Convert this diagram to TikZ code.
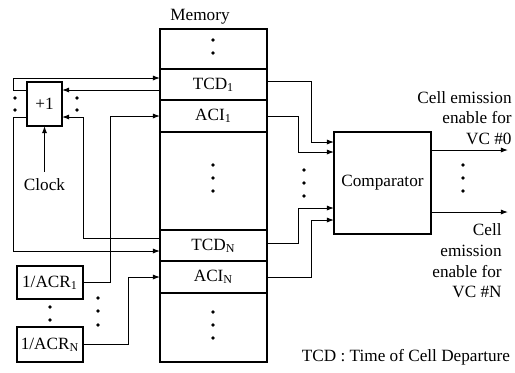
\documentclass[tikz,border=0pt]{standalone}
\usepackage{fontspec}
\setmainfont{Liberation Serif}
\usetikzlibrary{positioning,arrows.meta}

\begin{document}
\begin{tikzpicture}[
    x=0.5pt, y=-0.5pt,
    font=\fontsize{8.6}{10.3}\selectfont,
    cell/.style={rectangle, draw, line width=0.6pt, minimum width=53.5pt,
                 inner sep=0pt, outer sep=0pt},
    box/.style={rectangle, draw, line width=0.6pt, inner sep=0pt, outer sep=0pt},
    txt/.style={inner sep=0pt},
    arrow/.style={-{Latex[length=3.6pt,width=2.6pt]}, line width=0.5pt}
  ]
    \useasboundingbox (0,0) rectangle (515,372);

    % memory column
    \node[cell, minimum height=20pt] (mtop) at (213.5,49) {};
    \node[cell, minimum height=15.5pt, below=0pt of mtop] (tcd1) {TCD\textsubscript{1}};
    \node[cell, minimum height=16pt, below=0pt of tcd1] (aci1) {ACI\textsubscript{1}};
    \node[cell, minimum height=49pt, below=0pt of aci1] (mmid) {};
    \node[cell, minimum height=15.5pt, below=0pt of mmid] (tcdn) {TCD\textsubscript{N}};
    \node[cell, minimum height=16pt, below=0pt of tcdn] (acin) {ACI\textsubscript{N}};
    \node[cell, minimum height=34.5pt, below=0pt of acin] (mbot) {};
    \node[txt] (memlabel) at (200,17) {Memory};

    % counter, clock and rate registers
    \node[box, minimum width=17.5pt, minimum height=22pt] (plus) at (44.5,104) {+1};
    \node (clock) at (44.5,185) {Clock};
    \node[box, minimum width=33pt, minimum height=16.5pt] (acr1) at (50,282.5)
      {1/ACR\textsubscript{1}};
    \node[box, minimum width=33pt, minimum height=17.5pt, below=14pt of acr1] (acrn)
      {1/ACR\textsubscript{N}};

    % comparator and outputs
    \node[box, minimum width=48.5pt, minimum height=51pt] (comp) at (382.5,183) {Comparator};
    \node[txt, align=right, anchor=east] (en0) at (512,118)
      {Cell emission\\enable for\\VC \#0};
    \node[txt, align=right, anchor=east] (enN) at (502,261)
      {Cell\\emission\\enable for\\VC \#N};
    \node[txt] (legend) at (406,357) {TCD : Time of Cell Departure};

    % dots
    \foreach \px/\py in {15/98, 15/110, 77/98, 77/110,
                         213/40, 213/53, 213/165, 213/178, 213/191,
                         213/312, 213/325, 213/338,
                         50/307, 50/320, 98/298, 98/311, 98/325,
                         304/170, 304/183, 304/196, 463/165, 463/178, 463/191}
      \fill (\px,\py) circle (0.9pt);

    % left side connectors
    \draw[arrow] ([yshift=-4pt]plus.north west) -- ++(-7pt,0) |- ([yshift=-4.5pt]tcd1.north west);
    \draw[arrow] ([yshift=-10.5pt]tcd1.north west) -- ([yshift=-4pt]plus.north east);
    \draw[arrow] ([yshift=-4pt]tcdn.north west) -- ++(-38.5pt,0) |- ([yshift=4.5pt]plus.south east);
    \draw[arrow] ([yshift=4.5pt]plus.south west) -- ++(-7pt,0) |- ([yshift=-10.5pt]tcdn.north west);
    \draw[arrow] (acr1.east) -- ++(13.5pt,0) |- (aci1.west);
    \draw[arrow] (acrn.east) -- ++(22.5pt,0) |- (acin.west);
    \draw[arrow] (clock) -- (plus);

    % right side connectors
    \draw[arrow] ([yshift=-6pt]tcd1.north east) -- ++(22pt,0) |- ([yshift=-5pt]comp.north west);
    \draw[arrow] (aci1.east) -- ++(15.5pt,0) |- ([yshift=-10pt]comp.north west);
    \draw[arrow] ([yshift=-6.5pt]tcdn.north east) -- ++(15.5pt,0) |- ([yshift=13pt]comp.south west);
    \draw[arrow] (acin.east) -- ++(22pt,0) |- ([yshift=7pt]comp.south west);
    \draw[arrow] ([yshift=-9pt]comp.north east) -- ++(38.5pt,0) coordinate (out0);
    \draw[arrow] ([yshift=11pt]comp.south east) -- ++(38.5pt,0) coordinate (outN);
  \end{tikzpicture}
\end{document}
